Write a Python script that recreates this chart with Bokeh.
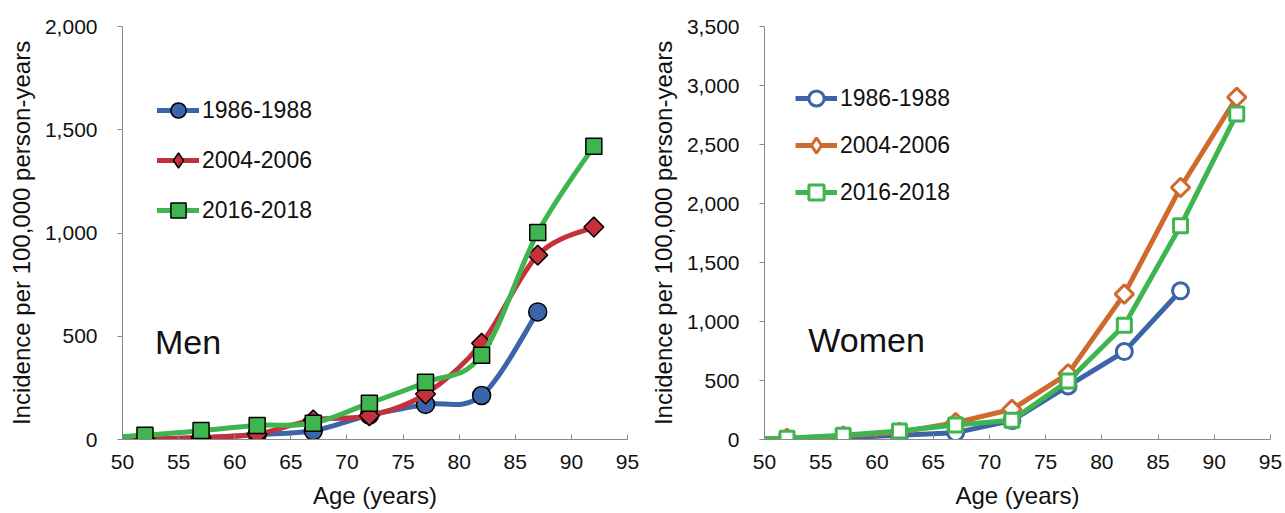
import numpy as np
from bokeh.plotting import figure
from bokeh.layouts import row
from bokeh.models import (Range1d, FixedTicker, NumeralTickFormatter, Legend,
                          LegendItem, Label, ColumnDataSource)
from bokeh.embed import file_html
from bokeh.resources import INLINE

# ---------------- data ----------------
ages = [47, 52, 57, 62, 67, 72, 77, 82, 87, 92]
periods = ["1986-1988", "2004-2006", "2016-2018"]

men_1986 = [0, 3, 8, 24, 42, 118, 170, 213, 618, None]
men_2004 = [0, 3, 10, 26, 95, 115, 220, 466, 893, 1029]
men_2016 = [8, 21, 43, 68, 79, 176, 277, 408, 1002, 1420]

women_1986 = [2, 5, 15, 35, 58, 160, 454, 745, 1260, None]
women_2004 = [3, 10, 30, 62, 143, 256, 558, 1232, 2136, 2900]
women_2016 = [6, 10, 36, 72, 123, 163, 496, 969, 1811, 2759]

x_ticks = [50, 55, 60, 65, 70, 75, 80, 85, 90, 95]
men_y_ticks = [0, 500, 1000, 1500, 2000]
women_y_ticks = [0, 500, 1000, 1500, 2000, 2500, 3000, 3500]

# ---------------- styles ----------------
FONT = "Liberation Sans"
TXT = "#111111"
AX = "#8a8a8a"
men_colors = ["#3c64a8", "#c6303a", "#3fb54f"]
women_colors = ["#3c64a8", "#d0692e", "#3fb54f"]
FRAME_H = 413


def clean(xs, ys):
    pts = [(x, y) for x, y in zip(xs, ys) if y is not None]
    return [p[0] for p in pts], [p[1] for p in pts]


def smooth_source(xs, ys):
    xs, ys = clean(xs, ys)
    n = len(xs)
    d = dict(x0=[], y0=[], x1=[], y1=[], cx0=[], cy0=[], cx1=[], cy1=[])
    for i in range(n - 1):
        i0 = max(i - 1, 0)
        i3 = min(i + 2, n - 1)
        d["x0"].append(xs[i]); d["y0"].append(ys[i])
        d["x1"].append(xs[i + 1]); d["y1"].append(ys[i + 1])
        d["cx0"].append(xs[i] + (xs[i + 1] - xs[i0]) / 6)
        d["cy0"].append(ys[i] + (ys[i + 1] - ys[i0]) / 6)
        d["cx1"].append(xs[i + 1] - (xs[i3] - xs[i]) / 6)
        d["cy1"].append(ys[i + 1] - (ys[i3] - ys[i]) / 6)
    return ColumnDataSource(d)


def make_fig(ymax, yticks, left, right, top, fw):
    p = figure(frame_width=fw, frame_height=FRAME_H,
               min_border_left=left, min_border_right=right, min_border_top=top,
               min_border_bottom=513 - top - FRAME_H,
               x_range=Range1d(50, 95), y_range=Range1d(0, ymax),
               output_backend="svg", toolbar_location=None,
               background_fill_color="white", border_fill_color="white")
    p.outline_line_color = None
    p.xgrid.visible = False
    p.ygrid.visible = False

    xa = p.xaxis[0]
    xa.ticker = FixedTicker(ticks=x_ticks)
    xa.minor_tick_line_color = None
    xa.major_tick_in = 5
    xa.major_tick_out = 0
    xa.axis_line_color = AX
    xa.major_tick_line_color = AX
    xa.major_label_text_font = FONT
    xa.major_label_text_font_size = "21px"
    xa.major_label_text_color = TXT
    xa.major_label_standoff = 15
    xa.axis_label = "Age (years)"
    xa.axis_label_text_font = FONT
    xa.axis_label_text_font_size = "24px"
    xa.axis_label_text_font_style = "normal"
    xa.axis_label_text_color = TXT
    xa.axis_label_standoff = 10

    ya = p.yaxis[0]
    ya.ticker = FixedTicker(ticks=yticks)
    ya.formatter = NumeralTickFormatter(format="0,0")
    ya.minor_tick_line_color = None
    ya.major_tick_in = 0
    ya.major_tick_out = 5
    ya.axis_line_color = AX
    ya.major_tick_line_color = AX
    ya.major_label_text_font = FONT
    ya.major_label_text_font_size = "21px"
    ya.major_label_text_color = TXT
    ya.major_label_standoff = 20
    ya.axis_label = "Incidence per 100,000 person-years"
    ya.axis_label_text_font = FONT
    ya.axis_label_text_font_size = "24px"
    ya.axis_label_text_font_style = "normal"
    ya.axis_label_text_color = TXT
    ya.axis_label_standoff = 7
    return p


def legend_for(p, items, loc, spacing):
    leg = Legend(items=items, location=loc, glyph_width=42, glyph_height=38,
                 spacing=spacing, padding=0, margin=0, label_standoff=3,
                 label_text_font=FONT, label_text_font_size="23px",
                 label_text_color=TXT, border_line_alpha=0, background_fill_alpha=0,
                 click_policy="none")
    p.add_layout(leg)


# ---------------- Men ----------------
pm = make_fig(2000, men_y_ticks, 122, 13, 24, 505)
men_series = [men_1986, men_2004, men_2016]
men_markers = [dict(marker="circle", size=18, angle=0),
               dict(marker="square", size=14, angle=np.pi / 4),
               dict(marker="square", size=16, angle=0)]
legend_markers = ["circle", "diamond", "square"]
items = []
for lab, ys, col, mk, lm in zip(periods, men_series, men_colors, men_markers, legend_markers):
    src = smooth_source(ages, ys)
    lr = pm.bezier(x0="x0", y0="y0", x1="x1", y1="y1", cx0="cx0", cy0="cy0",
                   cx1="cx1", cy1="cy1", source=src, line_color=col, line_width=5,
                   line_cap="round")
    cx, cy = clean(ages, ys)
    sr = pm.scatter(cx, cy, marker=mk["marker"], size=mk["size"], angle=mk["angle"],
                    fill_color=col, line_color="black", line_width=1.5)
    # hidden twin of the markers, used only to give the legend the right shape
    lgr = pm.scatter(cx, cy, marker=lm, fill_color=col, line_color="black",
                     line_width=1.5, visible=False)
    items.append(LegendItem(label=lab, renderers=[lr, lgr]))
legend_for(pm, items, (35, 210), 12)
pm.add_layout(Label(x=52.9, y=474, text="Men", text_font=FONT, text_font_size="34px",
                    text_color=TXT, text_baseline="middle"))

# ---------------- Women ----------------
pw = make_fig(3500, women_y_ticks, 124, 15, 26, 506)
women_series = [women_1986, women_2004, women_2016]
women_markers = [dict(marker="circle", size=16, angle=0),
                 dict(marker="square", size=13, angle=np.pi / 4),
                 dict(marker="square", size=14, angle=0)]
items = []
for lab, ys, col, mk, lm in zip(periods, women_series, women_colors, women_markers, legend_markers):
    cx, cy = clean(ages, ys)
    lr = pw.line(cx, cy, line_color=col, line_width=5, line_join="round")
    sr = pw.scatter(cx, cy, marker=mk["marker"], size=mk["size"], angle=mk["angle"],
                    fill_color="white", line_color=col, line_width=3)
    lgr = pw.scatter(cx, cy, marker=lm, fill_color="white", line_color=col,
                     line_width=3, visible=False)
    items.append(LegendItem(label=lab, renderers=[lr, lgr]))
legend_for(pw, items, (31, 228), 9)
pw.add_layout(Label(x=53.9, y=840, text="Women", text_font=FONT, text_font_size="34px",
                    text_color=TXT, text_baseline="middle"))

layout = row(pm, pw, spacing=0)
open("out.html", "w").write(file_html(layout, INLINE))
